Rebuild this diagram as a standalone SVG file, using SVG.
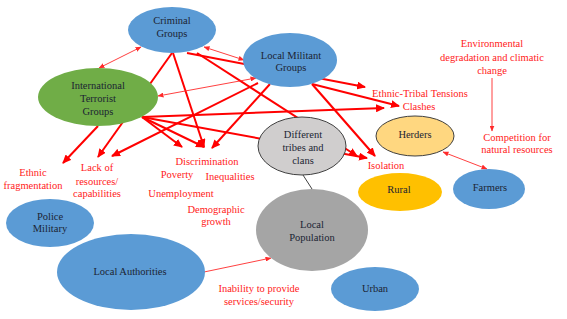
<svg xmlns="http://www.w3.org/2000/svg" width="567" height="319" viewBox="0 0 567 319">
<style>
.lbl{font-family:"Liberation Serif","Times New Roman",serif;font-size:10.5px;fill:#ff1a1a;text-anchor:middle}
.nt{font-family:"Liberation Serif","Times New Roman",serif;font-size:10.5px;fill:#1b2433;text-anchor:middle}
.thick{stroke:#ff0000;stroke-width:2;fill:none}
.thin{stroke:#ff2a2a;stroke-width:0.9;fill:none}
.blue{fill:#5b9bd5}
</style>
<defs>
<marker id="ah" markerUnits="userSpaceOnUse" markerWidth="9" markerHeight="8" refX="8" refY="4" orient="auto">
<path d="M0,0 L9,4 L0,8 z" fill="#ff0000"/>
</marker>
<marker id="ta" markerUnits="userSpaceOnUse" markerWidth="6" markerHeight="5" refX="5.5" refY="2.5" orient="auto-start-reverse">
<path d="M0,0 L6,2.5 L0,5 z" fill="#ff2a2a"/>
</marker>
</defs>
<rect width="567" height="319" fill="#ffffff"/>
<g id="connectors">
<path class="thick" d="M172,53 L98,157" marker-end="url(#ah)"/>
<path class="thick" d="M98,126 L63,163" marker-end="url(#ah)"/>
<path class="thick" d="M258,83 L112,156" marker-end="url(#ah)"/>
<path class="thick" d="M173,53 L204,147" marker-end="url(#ah)"/>
<path class="thick" d="M142,117 L204,147" marker-end="url(#ah)"/>
<path class="thick" d="M142,117 L182,147" marker-end="url(#ah)"/>
<path class="thick" d="M270,84 L212,148" marker-end="url(#ah)"/>
<path class="thick" d="M187,53 L365,87" marker-end="url(#ah)"/>
<path class="thick" d="M312,84 L399,106" marker-end="url(#ah)"/>
<path class="thick" d="M142,117 L384,108" marker-end="url(#ah)"/>
<path class="thick" d="M142,117 L367,158" marker-end="url(#ah)"/>
<path class="thick" d="M197,53 L357,156" marker-end="url(#ah)"/>
<path class="thick" d="M312,84 L375,156" marker-end="url(#ah)"/>
<path class="thin" d="M141,47 L99,68" marker-start="url(#ta)" marker-end="url(#ta)"/>
<path class="thin" d="M204,47 L244,60" marker-start="url(#ta)" marker-end="url(#ta)"/>
<path class="thin" d="M256,78 L158,96" marker-start="url(#ta)" marker-end="url(#ta)"/>
<path class="thin" d="M443,152 L487,169" marker-start="url(#ta)" marker-end="url(#ta)"/>
<path class="thin" d="M492,78 L492,131" marker-end="url(#ta)"/>
<path class="thin" d="M204,272 L271,258" marker-end="url(#ta)"/>
<path d="M303,175 L312,189" stroke="#404040" stroke-width="1" fill="none"/>
</g>
<g id="criminal">
<ellipse class="blue" cx="172" cy="30" rx="44" ry="23"/>
<text class="nt" x="172" y="24">Criminal</text>
<text class="nt" x="172" y="37">Groups</text>
</g>
<g id="local-militant">
<ellipse class="blue" cx="290" cy="60" rx="47" ry="27"/>
<text class="nt" x="291" y="59">Local Militant</text>
<text class="nt" x="291" y="71">Groups</text>
</g>
<g id="international">
<ellipse cx="98" cy="97" rx="60" ry="29" fill="#70ad47"/>
<text class="nt" x="98" y="89">International</text>
<text class="nt" x="98" y="102">Terrorist</text>
<text class="nt" x="98" y="115">Groups</text>
</g>
<g id="tribes">
<ellipse cx="302" cy="146" rx="44" ry="29" fill="#d0cece" stroke="#404040" stroke-width="1"/>
<text class="nt" x="303" y="138">Different</text>
<text class="nt" x="303" y="151">tribes and</text>
<text class="nt" x="303" y="164">clans</text>
</g>
<g id="herders">
<ellipse cx="415" cy="136" rx="39" ry="20" fill="#ffd780" stroke="#404040" stroke-width="1"/>
<text class="nt" x="415" y="138">Herders</text>
</g>
<g id="rural">
<ellipse cx="400" cy="192" rx="42" ry="19" fill="#ffc000"/>
<text class="nt" x="399" y="193">Rural</text>
</g>
<g id="farmers">
<ellipse class="blue" cx="489" cy="189" rx="36" ry="20"/>
<text class="nt" x="490" y="191">Farmers</text>
</g>
<g id="local-population">
<ellipse cx="312" cy="230" rx="56" ry="41" fill="#a5a5a5"/>
<text class="nt" x="312" y="228">Local</text>
<text class="nt" x="312" y="241">Population</text>
</g>
<g id="urban">
<ellipse class="blue" cx="375" cy="289" rx="44" ry="22"/>
<text class="nt" x="375" y="292">Urban</text>
</g>
<g id="police-military">
<ellipse class="blue" cx="50" cy="223" rx="44" ry="24"/>
<text class="nt" x="50" y="220">Police</text>
<text class="nt" x="50" y="232">Military</text>
</g>
<g id="local-authorities">
<ellipse class="blue" cx="131" cy="272" rx="74" ry="38"/>
<text class="nt" x="130" y="275">Local Authorities</text>
</g>
<g id="labels">
<text class="lbl" x="492" y="47">Environmental</text>
<text class="lbl" x="492" y="61">degradation and climatic</text>
<text class="lbl" x="492" y="74">change</text>
<text class="lbl" x="517" y="141">Competition for</text>
<text class="lbl" x="517" y="153">natural resources</text>
<text class="lbl" x="420" y="97">Ethnic-Tribal Tensions</text>
<text class="lbl" x="419" y="110">Clashes</text>
<text class="lbl" x="386" y="169">Isolation</text>
<text class="lbl" x="33" y="176">Ethnic</text>
<text class="lbl" x="33" y="189">fragmentation</text>
<text class="lbl" x="97" y="171">Lack of</text>
<text class="lbl" x="97" y="185">resources/</text>
<text class="lbl" x="97" y="197">capabilities</text>
<text class="lbl" x="207" y="165">Discrimination</text>
<text class="lbl" x="177" y="178">Poverty</text>
<text class="lbl" x="230" y="180">Inequalities</text>
<text class="lbl" x="181" y="197">Unemployment</text>
<text class="lbl" x="216" y="213">Demographic</text>
<text class="lbl" x="216" y="225">growth</text>
<text class="lbl" x="259" y="292">Inability to provide</text>
<text class="lbl" x="259" y="305">services/security</text>
</g>
</svg>
